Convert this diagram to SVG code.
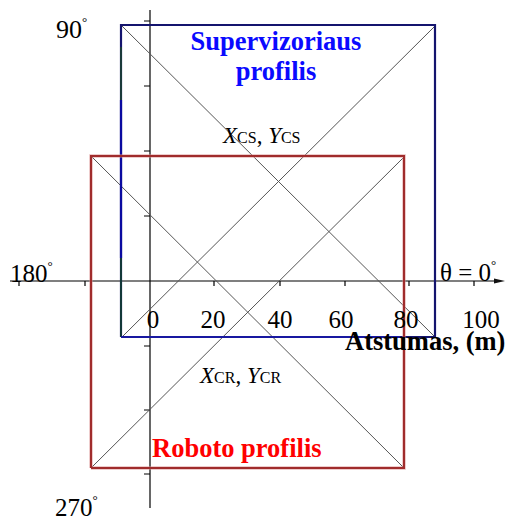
<svg xmlns="http://www.w3.org/2000/svg" width="506" height="520" viewBox="0 0 506 520">
<style>
.t{font-family:"Liberation Serif","Times New Roman",serif;fill:#000}
.b{font-weight:bold}
.diag{stroke:#555;stroke-width:1;fill:none}
.ax{stroke:#000;stroke-width:1.2;fill:none}
.deg{font-size:13px}
</style>
<rect width="506" height="520" fill="#fff"/>
<g id="connectors">
<g id="axes">
<line class="ax" x1="150" y1="10" x2="150" y2="508"/>
<line class="ax" x1="10" y1="281" x2="498" y2="281"/>
<polygon points="494,278.5 505,281 494,283.5" fill="#111"/>
<path class="ax" d="M144,21H150M144,86H150M144,151H150M144,216H150M144,346H150M144,410H150M144,474H150"/>
<path class="ax" d="M19,281V286M85,281V286M214,281V286M280,281V286M345,281V286M409,281V286M474,281V286"/>
</g>
<g id="diagonals">
<line class="diag" x1="122" y1="26" x2="435" y2="337"/>
<line class="diag" x1="122" y1="337" x2="434" y2="27"/>
<line class="diag" x1="91" y1="156" x2="404" y2="468"/>
<line class="diag" x1="91" y1="468" x2="404" y2="157"/>
</g>
</g>
<g id="supervisor">
<path d="M121,337V25H435V337H121" fill="none" stroke="#14146e" stroke-width="2.2"/>
<line x1="121" y1="100" x2="121" y2="258" stroke="#0a0aa0" stroke-width="2.2"/>
<line x1="121" y1="47" x2="121" y2="100" stroke="#1a3a3a" stroke-width="2"/>
<line x1="121" y1="258" x2="121" y2="337" stroke="#123838" stroke-width="2"/>
<line x1="121" y1="337" x2="400" y2="337" stroke="#1818a0" stroke-width="2.2"/>
<text class="t b" x="276" y="50" font-size="26.5" text-anchor="middle" style="fill:#0a0aff">Supervizoriaus</text>
<text class="t b" x="276" y="80" font-size="26.5" text-anchor="middle" style="fill:#0a0aff">profilis</text>
<text class="t" x="223" y="143"><tspan font-style="italic" font-size="23">X</tspan><tspan font-size="16">CS</tspan><tspan font-size="23">, </tspan><tspan font-style="italic" font-size="23">Y</tspan><tspan font-size="16">CS</tspan></text>
</g>
<g id="robot">
<path d="M91,468V156H404V468H91" fill="none" stroke="#d89090" stroke-width="3.5" opacity="0.6"/>
<path d="M91,468V156H404V468H91" fill="none" stroke="#a02c2c" stroke-width="2"/>
<text class="t b" x="152" y="457" font-size="26.5" style="fill:#ff0000">Roboto profilis</text>
<text class="t" x="200" y="383"><tspan font-style="italic" font-size="23">X</tspan><tspan font-size="16">CR</tspan><tspan font-size="23">, </tspan><tspan font-style="italic" font-size="23">Y</tspan><tspan font-size="16">CR</tspan></text>
</g>
<g id="labels">
<text class="t" x="56" y="38" font-size="26">90<tspan class="deg" dy="-12">°</tspan></text>
<text class="t" x="10" y="282" font-size="25">180<tspan class="deg" dy="-12">°</tspan></text>
<text class="t" x="55" y="516" font-size="25">270<tspan class="deg" dy="-12">°</tspan></text>
<text class="t" x="440" y="281" font-size="25">θ = 0<tspan class="deg" dy="-12">°</tspan></text>
<text class="t" font-size="25" y="328" text-anchor="middle"><tspan x="153">0</tspan><tspan x="213">20</tspan><tspan x="280">40</tspan><tspan x="341">60</tspan><tspan x="406">80</tspan><tspan x="481">100</tspan></text>
<text class="t b" x="345" y="350" font-size="26.5">Atstumas, (m)</text>
</g>
</svg>
